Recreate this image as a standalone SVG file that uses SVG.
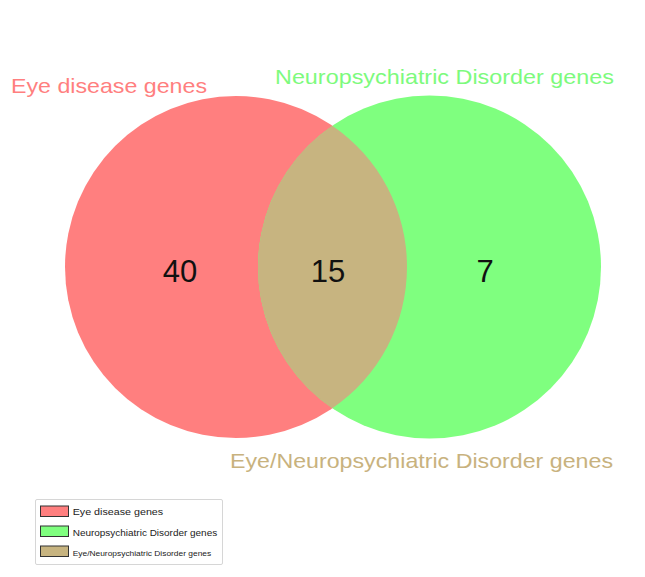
<svg xmlns="http://www.w3.org/2000/svg" width="645" height="577" viewBox="0 0 645 577">
<style>
.t{font-family:"Liberation Sans",Arial,sans-serif}
.num{font-size:31px;fill:#111;text-anchor:middle}
.title{font-size:21px}
.lg{font-size:9.5px;fill:#222}
.sw{stroke:#333;stroke-width:1}
</style>
<rect width="645" height="577" fill="#ffffff"/>
<g id="set-eye">
<circle cx="236" cy="267" r="171" fill="#FF7F7F"/>
</g>
<g id="set-neuro">
<circle cx="429.5" cy="267" r="171.5" fill="#7FFF7F"/>
</g>
<g id="set-overlap">
<path d="M332.3,125.7 A171,171 0 0,1 332.3,408.3 A171.5,171.5 0 0,1 332.3,125.7 Z" fill="#C7B480"/>
</g>
<g id="counts">
<text class="t num" x="180" y="281.5">40</text>
<text class="t num" x="328" y="281.5">15</text>
<text class="t num" x="485" y="281.5">7</text>
</g>
<g id="labels">
<text class="t title" x="11" y="92.5" fill="#FF7F7F" textLength="196" lengthAdjust="spacingAndGlyphs">Eye disease genes</text>
<text class="t title" x="275" y="83.5" fill="#7DFA7D" textLength="339" lengthAdjust="spacingAndGlyphs">Neuropsychiatric Disorder genes</text>
<text class="t title" x="230" y="468" fill="#C8B27E" textLength="383" lengthAdjust="spacingAndGlyphs">Eye/Neuropsychiatric Disorder genes</text>
</g>
<g id="legend">
<rect x="35.5" y="499.5" width="187" height="65" fill="#ffffff" stroke="#d6d6d6" stroke-width="1" rx="1.5"/>
<rect class="sw" x="40.5" y="506" width="28" height="10.5" fill="#FF7F7F"/>
<rect class="sw" x="40.5" y="526" width="28" height="10.5" fill="#7FFF7F"/>
<rect class="sw" x="40.5" y="546" width="28" height="10.5" fill="#C7B480"/>
<text class="t lg" x="72.7" y="515" textLength="90.5" lengthAdjust="spacingAndGlyphs">Eye disease genes</text>
<text class="t lg" x="72.7" y="535.5" textLength="144.5" lengthAdjust="spacingAndGlyphs">Neuropsychiatric Disorder genes</text>
<text class="t lg" x="72.7" y="555.5" style="font-size:7.8px" textLength="138.5" lengthAdjust="spacingAndGlyphs">Eye/Neuropsychiatric Disorder genes</text>
</g>
</svg>
